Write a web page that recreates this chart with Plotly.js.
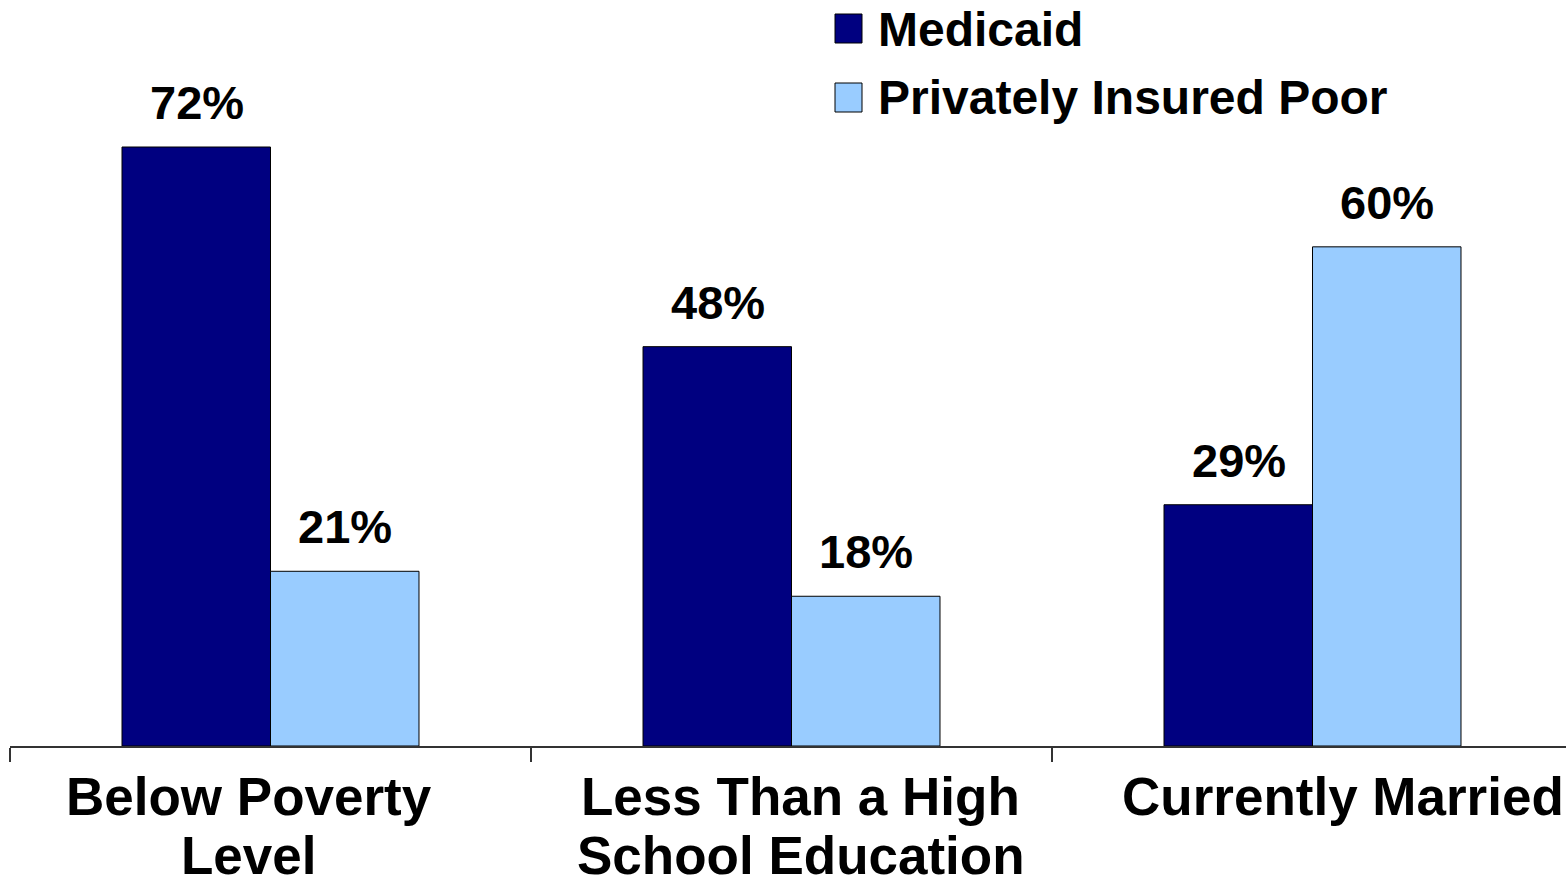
<!DOCTYPE html>
<html>
<head>
<meta charset="utf-8">
<script src="https://cdn.plot.ly/plotly-3.0.1.min.js"></script>
<style>
  html, body { margin: 0; padding: 0; background: #fff; }
  #chart { width: 1566px; height: 879px; }
</style>
</head>
<body>
<div id="chart"></div>
<script>
// Characteristics of poor women by insurance type
const categories = ["Below Poverty<br>Level", "Less Than a High<br>School Education", "Currently Married"];
const seriesNames = ["Medicaid", "Privately Insured Poor"];
const medicaid = [72, 48, 29];
const privatePoor = [21, 18, 60];
const seriesColors = ["#000080", "#99CCFF"];

const W = 1566, H = 879;
const M = { l: 10, r: 0, t: 0, b: 133 };
const plotW = W - M.l - M.r, plotH = H - M.t - M.b;
const FONT = "Liberation Sans, Arial, Helvetica, sans-serif";

// pixel -> paper helpers for the decorations placed outside the data
const px = x => (x - M.l) / plotW;
const py = y => (H - M.b - y) / plotH;

const idx = categories.map((_, i) => i);
const bars = [medicaid, privatePoor].map((vals, s) => ({
  type: "bar",
  name: seriesNames[s],
  x: idx,
  y: vals,
  marker: { color: seriesColors[s], line: { color: "#000", width: 1 } },
  hoverinfo: "skip",
  showlegend: false
}));

const annotations = [];
// value labels above each bar
const halfBar = 74;
[medicaid, privatePoor].forEach((vals, s) => {
  vals.forEach((v, i) => {
    annotations.push({
      x: i, y: v, xref: "x", yref: "y",
      xshift: (s === 0 ? -1 : 1) * halfBar, yshift: 16,
      text: v + "%", showarrow: false,
      xanchor: "center", yanchor: "bottom",
      font: { family: FONT, size: 47, color: "#000", weight: "bold" }
    });
  });
});

// category labels, one annotation per line
const labelShift = [-22, 9, 30];
categories.forEach((c, i) => {
  c.split("<br>").forEach((line, k) => {
    annotations.push({
      x: i, xref: "x", y: py(796 + k * 59), yref: "paper",
      xshift: labelShift[i],
      text: line, showarrow: false,
      xanchor: "center", yanchor: "middle",
      font: { family: FONT, size: 53, color: "#000", weight: "bold" }
    });
  });
});

// legend
const shapes = [];
seriesNames.forEach((name, s) => {
  const top = 14 + s * 69;
  shapes.push({
    type: "rect", xref: "paper", yref: "paper",
    x0: px(835), x1: px(862), y0: py(top), y1: py(top + 29),
    fillcolor: seriesColors[s], line: { color: "#000", width: 1 }
  });
  annotations.push({
    x: px(876), y: py(top + 15), xref: "paper", yref: "paper",
    text: name, showarrow: false, xanchor: "left", yanchor: "middle",
    font: { family: FONT, size: 48, color: "#000", weight: "bold" }
  });
});

const layout = {
  width: W, height: H,
  margin: M,
  paper_bgcolor: "#fff", plot_bgcolor: "#fff",
  barmode: "group", bargap: 0.43, bargroupgap: 0,
  showlegend: false,
  xaxis: {
    type: "linear",
    range: [-0.5, -0.5 + plotW / 521],
    tickvals: [-0.5, 0.5, 1.5, 2.5],
    ticktext: ["", "", "", ""],
    ticks: "outside", ticklen: 14, tickwidth: 1.5, tickcolor: "#333",
    showline: true, linecolor: "#333", linewidth: 2,
    showgrid: false, zeroline: false, fixedrange: true
  },
  yaxis: {
    range: [0, plotH / (599 / 72)],
    visible: false, showgrid: false, zeroline: false, fixedrange: true
  },
  annotations, shapes
};

Plotly.newPlot("chart", bars, layout, { displayModeBar: false, staticPlot: true });
</script>
</body>
</html>
